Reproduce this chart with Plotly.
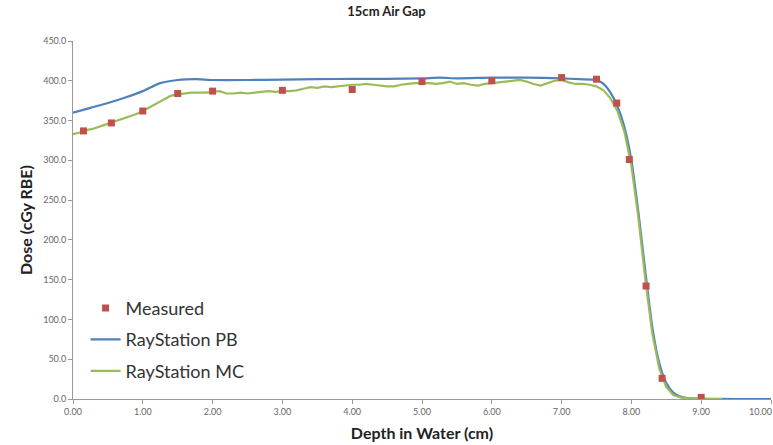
import plotly.graph_objects as go

# Measured data
meas_x = [0.15, 0.55, 1.0, 1.5, 2.0, 3.0, 4.0, 5.0, 6.0, 7.0, 7.5, 7.79, 7.97, 8.21, 8.44, 9.0]
meas_y = [337, 347, 362, 384, 387, 388, 389, 399, 400, 404, 402, 372, 301, 142, 26, 2]

# RayStation PB
pb_x = [0, 0.25, 0.5, 0.75, 1.0, 1.25, 1.5, 1.75, 2.0, 2.5, 3.0, 3.5, 4.0, 4.5, 5.0, 5.25, 5.5,
        6.0, 6.5, 7.0, 7.25, 7.5, 7.6, 7.7, 7.8, 7.9, 8.0, 8.1, 8.2, 8.3, 8.4, 8.5, 8.6, 8.7,
        8.8, 9.0, 9.5, 10.0]
pb_y = [360, 366, 372, 379, 387, 397, 401, 402, 401, 401, 401.5, 402, 402.5, 402.5, 403, 404, 403,
        404, 404, 403, 402, 401, 396, 385, 368, 342, 300, 235, 160, 90, 45, 20, 8, 3,
        1, 0.3, 0, 0]

# RayStation MC
mc_x = [round(i * 0.1, 1) for i in range(0, 94)]
mc_y = [333, 335, 338, 340, 343, 346, 349, 352, 355, 358,
        362, 367, 372, 377, 381, 383, 384, 385, 385, 385,
        386, 387, 384, 384, 385, 384, 385, 386, 387, 386,
        387, 387, 388, 390, 392, 391, 393, 392, 393, 394,
        395, 395, 396, 395, 394, 393, 393, 395, 396, 397,
        397, 397, 396, 397, 399, 396, 397, 395, 394, 396,
        397, 398, 399, 400, 401, 399, 396, 394, 397, 400,
        401, 398, 396, 396, 395, 393, 388, 378, 362, 336,
        293, 228, 150, 82, 38, 15, 5, 2, 1, 0.5,
        0.3, 0, 0, 0]

x_ticks = [0, 1, 2, 3, 4, 5, 6, 7, 8, 9, 10]
x_tick_text = ["0.00", "1.00", "2.00", "3.00", "4.00", "5.00", "6.00", "7.00", "8.00", "9.00", "10.00"]
y_ticks = [0, 50, 100, 150, 200, 250, 300, 350, 400, 450]

fig = go.Figure()
fig.add_trace(go.Scatter(x=pb_x, y=pb_y, mode="lines", name="RayStation PB",
                         line=dict(color="#4F81BD", width=2.2, shape="spline", smoothing=0.6),
                         legendgroup="b", legendrank=2))
fig.add_trace(go.Scatter(x=mc_x, y=mc_y, mode="lines", name="RayStation MC",
                         line=dict(color="#9BBB59", width=2.2),
                         legendgroup="c", legendrank=3))
fig.add_trace(go.Scatter(x=meas_x, y=meas_y, mode="markers", name="Measured",
                         marker=dict(symbol="square", size=7, color="#C0504D"),
                         legendgroup="a", legendrank=1))

# last tick label drawn right-aligned at its tick so it stays inside the page
shown_text = x_tick_text[:-1] + [""]
fig.add_annotation(x=x_ticks[-1], xref="x", y=0, yref="paper", yanchor="top", xanchor="right",
                   yshift=-5, xshift=3, text=x_tick_text[-1], showarrow=False,
                   font=dict(size=9, color="#666666"))

fig.update_layout(
    width=773, height=445,
    margin=dict(l=73, r=2, t=41, b=46),
    paper_bgcolor="white", plot_bgcolor="white",
    font=dict(family="Lato, Open Sans, sans-serif", color="#333333"),
    title=dict(text="<b>15cm Air Gap</b>", x=0.5, xanchor="center", y=0.985, yanchor="top",
               font=dict(size=13, color="#222222")),
    legend=dict(x=0.018, y=0.305, xanchor="left", yanchor="top", bgcolor="rgba(0,0,0,0)",
                font=dict(size=18, color="#333333"), tracegroupgap=5, itemwidth=30),
    showlegend=True,
)
fig.update_xaxes(range=[0, 10], tickvals=x_ticks, ticktext=shown_text,
                 showgrid=False, showline=True, linecolor="#9a9a9a", linewidth=1,
                 ticks="outside", ticklen=4, tickcolor="#9a9a9a",
                 tickfont=dict(size=9, color="#666666"),
                 automargin=False,
                 title=dict(text="<b>Depth in Water (cm)</b>", font=dict(size=16, color="#222222"),
                            standoff=12),
                 zeroline=False)
fig.update_yaxes(range=[0, 450], tickvals=y_ticks, tickformat=".1f",
                 showgrid=False, showline=True, linecolor="#9a9a9a", linewidth=1,
                 ticks="outside", ticklen=4, tickcolor="#9a9a9a",
                 tickfont=dict(size=9, color="#666666"),
                 title=dict(text="<b>Dose (cGy RBE)</b>", font=dict(size=16, color="#222222"),
                            standoff=6),
                 zeroline=False)

fig.write_html("out.html")
